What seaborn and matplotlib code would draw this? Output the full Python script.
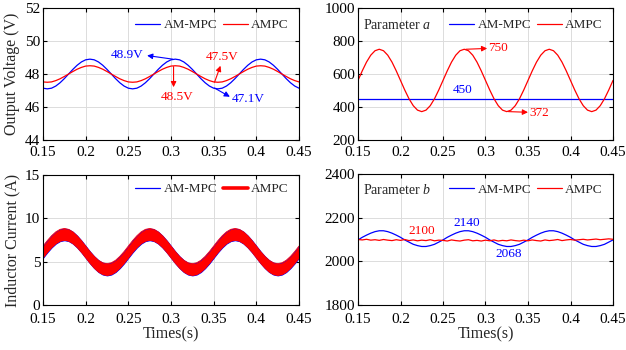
import numpy as np
import pandas as pd
import matplotlib
matplotlib.use("Agg")
import matplotlib.pyplot as plt
from matplotlib.lines import Line2D
import seaborn as sns

# ---------------------------------------------------------------- data
# sampling instants of the recorded waveforms (s)
time = np.round(np.linspace(0.15, 0.45, 61), 4)

# output voltage (V)
v_ammpc = [
    47.14, 47.10, 47.14, 47.27, 47.47, 47.72, 48.00, 48.28, 48.53, 48.73,
    48.86, 48.90, 48.86, 48.73, 48.53, 48.28, 48.00, 47.72, 47.47, 47.27,
    47.14, 47.10, 47.14, 47.27, 47.47, 47.72, 48.00, 48.28, 48.53, 48.73,
    48.86, 48.90, 48.86, 48.73, 48.53, 48.28, 48.00, 47.72, 47.47, 47.27,
    47.14, 47.10, 47.14, 47.27, 47.47, 47.72, 48.00, 48.28, 48.53, 48.73,
    48.86, 48.90, 48.86, 48.73, 48.53, 48.28, 48.00, 47.72, 47.47, 47.27,
    47.14]
v_ampc = [
    47.52, 47.50, 47.52, 47.60, 47.71, 47.85, 48.00, 48.15, 48.29, 48.40,
    48.48, 48.50, 48.48, 48.40, 48.29, 48.15, 48.00, 47.85, 47.71, 47.60,
    47.52, 47.50, 47.52, 47.60, 47.71, 47.85, 48.00, 48.15, 48.29, 48.40,
    48.48, 48.50, 48.48, 48.40, 48.29, 48.15, 48.00, 47.85, 47.71, 47.60,
    47.52, 47.50, 47.52, 47.60, 47.71, 47.85, 48.00, 48.15, 48.29, 48.40,
    48.48, 48.50, 48.48, 48.40, 48.29, 48.15, 48.00, 47.85, 47.71, 47.60,
    47.52]

# parameter a
a_ammpc = [450.0] * len(time)
a_ampc = [
    561, 619, 672, 714, 741, 750, 741, 714, 672, 619,
    561, 503, 450, 408, 381, 372, 381, 408, 450, 503,
    561, 619, 672, 714, 741, 750, 741, 714, 672, 619,
    561, 503, 450, 408, 381, 372, 381, 408, 450, 503,
    561, 619, 672, 714, 741, 750, 741, 714, 672, 619,
    561, 503, 450, 408, 381, 372, 381, 408, 450, 503,
    561]

# inductor current ripple envelope (A)
i_upper = [
    6.80, 7.43, 7.99, 8.44, 8.73, 8.83, 8.73, 8.44, 7.99, 7.43,
    6.80, 6.17, 5.61, 5.16, 4.87, 4.77, 4.87, 5.16, 5.61, 6.17,
    6.80, 7.43, 7.99, 8.44, 8.73, 8.83, 8.73, 8.44, 7.99, 7.43,
    6.80, 6.17, 5.61, 5.16, 4.87, 4.77, 4.87, 5.16, 5.61, 6.17,
    6.80, 7.43, 7.99, 8.44, 8.73, 8.83, 8.73, 8.44, 7.99, 7.43,
    6.80, 6.17, 5.61, 5.16, 4.87, 4.77, 4.87, 5.16, 5.61, 6.17,
    6.80]
i_lower = [
    5.45, 6.08, 6.64, 7.09, 7.38, 7.48, 7.38, 7.09, 6.64, 6.08,
    5.45, 4.82, 4.26, 3.81, 3.52, 3.42, 3.52, 3.81, 4.26, 4.82,
    5.45, 6.08, 6.64, 7.09, 7.38, 7.48, 7.38, 7.09, 6.64, 6.08,
    5.45, 4.82, 4.26, 3.81, 3.52, 3.42, 3.52, 3.81, 4.26, 4.82,
    5.45, 6.08, 6.64, 7.09, 7.38, 7.48, 7.38, 7.09, 6.64, 6.08,
    5.45, 4.82, 4.26, 3.81, 3.52, 3.42, 3.52, 3.81, 4.26, 4.82,
    5.45]

# parameter b
b_ammpc = [
    2098, 2110, 2120, 2129, 2136, 2140, 2140, 2136, 2129, 2120,
    2110, 2098, 2088, 2078, 2072, 2068, 2068, 2072, 2078, 2088,
    2098, 2110, 2120, 2129, 2136, 2140, 2140, 2136, 2129, 2120,
    2110, 2098, 2088, 2078, 2072, 2068, 2068, 2072, 2078, 2088,
    2098, 2110, 2120, 2129, 2136, 2140, 2140, 2136, 2129, 2120,
    2110, 2098, 2088, 2078, 2072, 2068, 2068, 2072, 2078, 2088,
    2098]
b_ampc = [
    2100, 2098, 2101, 2097, 2099, 2096, 2100, 2097, 2095, 2099,
    2096, 2100, 2095, 2098, 2094, 2097, 2095, 2099, 2094, 2097,
    2096, 2093, 2098, 2095, 2093, 2097, 2099, 2094, 2096, 2093,
    2097, 2094, 2098, 2093, 2096, 2094, 2098, 2095, 2093, 2097,
    2094, 2098, 2095, 2093, 2098, 2095, 2097, 2100, 2095, 2098,
    2100, 2097, 2099, 2101, 2098, 2100, 2102, 2099, 2101, 2103,
    2101]

xticks = [0.15, 0.2, 0.25, 0.3, 0.35, 0.4, 0.45]
xtick_labels = ["0.15", "0.2", "0.25", "0.3", "0.35", "0.4", "0.45"]
labels = ["AM-MPC", "AMPC"]

BLUE = "#0000FF"
RED = "#FF0000"

# ---------------------------------------------------------------- style
sns.set_theme(style="ticks")
plt.rcParams["font.family"] = ["Liberation Serif", "DejaVu Serif"]
plt.rcParams["mathtext.fontset"] = "custom"
plt.rcParams["mathtext.rm"] = "Liberation Serif"
plt.rcParams["mathtext.it"] = "Liberation Serif:italic"

fig = plt.figure(figsize=(6.26, 3.5), dpi=100)
W, H = 626.0, 350.0


def panel(x0, x1, y_top, y_bot):
    return fig.add_axes([x0 / W, 1 - y_bot / H, (x1 - x0) / W, (y_bot - y_top) / H])


ax_v = panel(43, 299, 8, 140)
ax_a = panel(358, 613, 8, 140)
ax_i = panel(43, 299, 175, 305)
ax_b = panel(358, 613, 174, 305)


def style(ax, ylim, yticks, xpad=4.5):
    ax.set_xlim(0.15, 0.45)
    ax.set_xticks(xticks)
    ax.set_xticklabels(xtick_labels)
    ax.set_ylim(*ylim)
    ax.set_yticks(yticks)
    ax.grid(True, color="#DCDCDC", lw=0.7)
    ax.set_axisbelow(True)
    for s in ax.spines.values():
        s.set_visible(True)
        s.set_color("black")
        s.set_linewidth(0.8)
    ax.tick_params(direction="in", length=3, width=0.8, top=True, right=True,
                   labelsize=11, colors="black")
    ax.tick_params(axis="x", pad=xpad)
    ax.tick_params(axis="y", pad=2)
    ax.set_xlabel("")
    ax.set_ylabel("")


def add_legend(ax, handles, y):
    ax.legend(handles=handles, labels=labels, ncol=2, frameon=False,
              loc="center right", bbox_to_anchor=(0.96, y),
              borderpad=0, borderaxespad=0, handlelength=1.9,
              handletextpad=0.25, columnspacing=0.4, fontsize=9.5)


def arrow(ax, tail, head, color):
    ax.annotate("", xy=head, xytext=tail,
                arrowprops=dict(arrowstyle="-|>", color=color, lw=0.8,
                                mutation_scale=8, shrinkA=0, shrinkB=0))


# ---------------------------------------------------------------- output voltage
sns.lineplot(x=time, y=v_ammpc, ax=ax_v, color=BLUE, lw=0.9, estimator=None)
sns.lineplot(x=time, y=v_ampc, ax=ax_v, color=RED, lw=0.9, estimator=None)
style(ax_v, (44, 52), [44, 46, 48, 50, 52])
ax_v.set_ylabel("Output Voltage (V)", fontsize=11.5)
ax_v.yaxis.set_label_coords(-0.09, 0.5)
add_legend(ax_v, [Line2D([], [], color=BLUE, lw=0.9),
                  Line2D([], [], color=RED, lw=0.9)], 0.87)

k_hi, k_lo = 31, 41          # second peak / third trough samples
arrow(ax_v, (time[k_hi] - 0.003, v_ammpc[k_hi]), (0.272, 49.12), BLUE)
ax_v.text(0.249, 49.15, f"{v_ammpc[k_hi]:.1f}V", color=BLUE, fontsize=9.5,
          ha="center", va="center")
arrow(ax_v, (time[k_lo] - 0.004, v_ammpc[k_lo] + 0.05), (0.369, 46.62), BLUE)
ax_v.text(0.39, 46.5, f"{v_ammpc[k_lo]:.1f}V", color=BLUE, fontsize=9.5,
          ha="center", va="center")
arrow(ax_v, (time[k_hi] - 0.002, v_ampc[k_hi] - 0.05), (0.303, 47.2), RED)
ax_v.text(0.307, 46.6, f"{v_ampc[k_hi]:.1f}V", color=RED, fontsize=9.5,
          ha="center", va="center")
arrow(ax_v, (time[k_lo] - 0.004, v_ampc[k_lo]), (0.358, 48.5), RED)
ax_v.text(0.36, 49.0, f"{v_ampc[k_lo]:.1f}V", color=RED, fontsize=9.5,
          ha="center", va="center")

# ---------------------------------------------------------------- parameter a
sns.lineplot(x=time, y=a_ammpc, ax=ax_a, color=BLUE, lw=0.9, estimator=None)
sns.lineplot(x=time, y=a_ampc, ax=ax_a, color=RED, lw=0.9, estimator=None)
style(ax_a, (200, 1000), [200, 400, 600, 800, 1000])
ax_a.text(0.02, 0.87, "Parameter $a$", transform=ax_a.transAxes,
          fontsize=10, ha="left", va="center")
add_legend(ax_a, [Line2D([], [], color=BLUE, lw=0.9),
                  Line2D([], [], color=RED, lw=0.9)], 0.87)
ax_a.text(0.273, 503, f"{a_ammpc[0]:.0f}", color=BLUE, fontsize=9.5,
          ha="center", va="center")
ka_hi, ka_lo = 25, 35
arrow(ax_a, (time[ka_hi] + 0.002, a_ampc[ka_hi]), (0.302, 755), RED)
ax_a.text(0.303, 758, f"{max(a_ampc):.0f}", color=RED, fontsize=9.5,
          ha="left", va="center")
arrow(ax_a, (time[ka_lo] + 0.002, a_ampc[ka_lo]), (0.35, 368), RED)
ax_a.text(0.352, 364, f"{min(a_ampc):.0f}", color=RED, fontsize=9.5,
          ha="left", va="center")

# ---------------------------------------------------------------- inductor current
ax_i.fill_between(time, i_lower, i_upper, color=BLUE, lw=0.8)
ax_i.fill_between(time, i_lower, i_upper, color=RED, lw=0)
sns.lineplot(x=time, y=i_upper, ax=ax_i, color=RED, lw=0.6, estimator=None)
sns.lineplot(x=time, y=i_lower, ax=ax_i, color=RED, lw=0.6, estimator=None)
style(ax_i, (0, 15), [0, 5, 10, 15], xpad=6)
ax_i.set_ylabel("Inductor Current (A)", fontsize=11.5)
ax_i.yaxis.set_label_coords(-0.09, 0.5)
ax_i.set_xlabel("Times(s)", fontsize=11.5, labelpad=0)
add_legend(ax_i, [Line2D([], [], color=BLUE, lw=0.9),
                  Line2D([], [], color=RED, lw=2.6)], 0.89)

# ---------------------------------------------------------------- parameter b
sns.lineplot(x=time, y=b_ammpc, ax=ax_b, color=BLUE, lw=0.9, estimator=None)
sns.lineplot(x=time, y=b_ampc, ax=ax_b, color=RED, lw=0.9, estimator=None)
style(ax_b, (1800, 2400), [1800, 2000, 2200, 2400], xpad=6)
ax_b.set_xlabel("Times(s)", fontsize=11.5, labelpad=0)
ax_b.text(0.02, 0.88, "Parameter $b$", transform=ax_b.transAxes,
          fontsize=10, ha="left", va="center")
add_legend(ax_b, [Line2D([], [], color=BLUE, lw=0.9),
                  Line2D([], [], color=RED, lw=0.9)], 0.88)
ax_b.text(0.225, 2140, "2100", color=RED, fontsize=9.5, ha="center", va="center")
ax_b.text(0.2775, 2176, f"{max(b_ammpc):.0f}", color=BLUE, fontsize=9.5,
          ha="center", va="center")
ax_b.text(0.327, 2035, f"{min(b_ammpc):.0f}", color=BLUE, fontsize=9.5,
          ha="center", va="center")

fig.savefig("out.png", dpi=100)
